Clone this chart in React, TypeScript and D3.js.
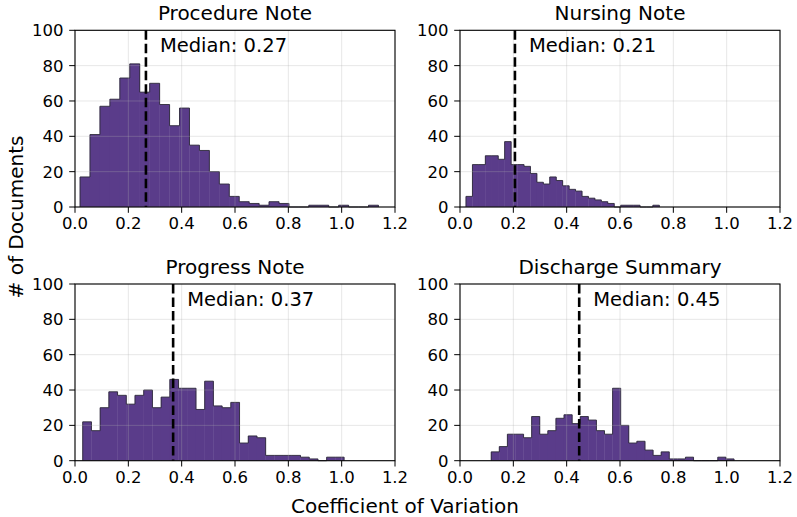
import * as d3 from "d3";

// histogram counts per note type, 30 bins each
const titles = ["Procedure Note", "Nursing Note", "Progress Note", "Discharge Summary"];
const procedureCounts = [17, 41, 57, 61, 73, 81, 65, 70, 58, 46, 56, 35, 32, 20, 13, 6, 3, 2, 1, 3, 2, 0, 0, 1, 1, 0, 1, 0, 0, 1];
const nursingCounts = [6, 24, 24, 29, 29, 27, 37, 24, 24, 23, 19, 14, 13, 17, 15, 12, 10, 9, 6, 5, 4, 3, 2, 0, 1, 1, 1, 0, 0, 1];
const progressCounts = [22, 17, 30, 39, 37, 32, 37, 40, 30, 36, 46, 41, 41, 29, 45, 31, 30, 33, 10, 14, 13, 3, 3, 3, 3, 2, 1, 0, 2, 2];
const dischargeCounts = [5, 8, 15, 15, 13, 25, 15, 17, 24, 26, 21, 25, 23, 17, 15, 41, 20, 10, 11, 6, 3, 5, 1, 1, 2, 0, 0, 0, 2, 1];
const binStarts = [0.019, 0.0225, 0.029, 0.117];
const binEnds = [1.138, 0.7475, 1.009, 1.0275];
const medians = [0.266, 0.206, 0.368, 0.447];
const xTicks = [0, 0.2, 0.4, 0.6, 0.8, 1.0, 1.2];
const yTicks = [0, 20, 40, 60, 80, 100];

const allCounts = [procedureCounts, nursingCounts, progressCounts, dischargeCounts];

const W = 797;
const H = 517;
const panelW = 320;
const panelH = 176.7;
const colX = [75, 460];
const rowY = [30.3, 284];
const font = "DejaVu Sans, sans-serif";

const Panel = ({ idx }: { idx: number }) => {
  const left = colX[idx % 2];
  const top = rowY[Math.floor(idx / 2)];
  const counts = allCounts[idx];

  const x = d3.scaleLinear().domain([0, 1.2]).range([0, panelW]);
  const y = d3.scaleLinear().domain([0, 100]).range([panelH, 0]);

  const bw = (binEnds[idx] - binStarts[idx]) / counts.length;
  const fmt = d3.format(".1f");

  // outline of the whole histogram (no edges between bins)
  const pts: [number, number][] = [[binStarts[idx], 0]];
  counts.forEach((c, i) => pts.push([binStarts[idx] + i * bw, c]));
  pts.push([binEnds[idx], counts[counts.length - 1]]);
  pts.push([binEnds[idx], 0]);
  const outline = d3
    .line<[number, number]>()
    .x((d) => x(d[0]))
    .y((d) => y(d[1]))
    .curve(d3.curveStepAfter)(pts);

  return (
    <g transform={`translate(${left},${top})`}>
      {counts.map((c, i) => {
        const x0 = binStarts[idx] + i * bw;
        if (c === 0) return null;
        return (
          <rect
            key={i}
            x={x(x0) - 0.2}
            y={y(c)}
            width={x(x0 + bw) - x(x0) + 0.4}
            height={y(0) - y(c)}
            fill="#5a3c8a"
          />
        );
      })}
      <path d={outline || ""} fill="none" stroke="#2e2a3a" strokeWidth={0.9} />
      {/* grid on top, like matplotlib */}
      {xTicks.map((t) => (
        <line key={"gx" + t} x1={x(t)} x2={x(t)} y1={0} y2={panelH} stroke="#b0b0b0" strokeOpacity={0.3} strokeWidth={1} />
      ))}
      {yTicks.map((t) => (
        <line key={"gy" + t} x1={0} x2={panelW} y1={y(t)} y2={y(t)} stroke="#b0b0b0" strokeOpacity={0.3} strokeWidth={1} />
      ))}
      <line
        x1={x(medians[idx])}
        x2={x(medians[idx])}
        y1={0}
        y2={panelH}
        stroke="#000"
        strokeWidth={2.6}
        strokeDasharray="9.5,4"
      />
      <text x={x(medians[idx]) + 14} y={22} fontSize={19.5} fontFamily={font}>
        {`Median: ${medians[idx].toFixed(2)}`}
      </text>
      <rect x={0} y={0} width={panelW} height={panelH} fill="none" stroke="#000" strokeWidth={1.1} />
      {xTicks.map((t) => (
        <g key={"tx" + t}>
          <line x1={x(t)} x2={x(t)} y1={panelH} y2={panelH + 5.8} stroke="#000" strokeWidth={1} />
          <text x={x(t)} y={panelH + 22} textAnchor="middle" fontSize={16.5} fontFamily={font}>
            {fmt(t)}
          </text>
        </g>
      ))}
      {yTicks.map((t) => (
        <g key={"ty" + t}>
          <line x1={-5.8} x2={0} y1={y(t)} y2={y(t)} stroke="#000" strokeWidth={1} />
          <text x={-11.5} y={y(t) + 6} textAnchor="end" fontSize={16.5} fontFamily={font}>
            {t}
          </text>
        </g>
      ))}
      <text x={panelW / 2} y={-10} textAnchor="middle" fontSize={20} fontFamily={font}>
        {titles[idx]}
      </text>
    </g>
  );
};

export default function App() {
  return (
    <svg width={W} height={H} style={{ position: "absolute", left: 0, top: 0, background: "#fff" }}>
      {titles.map((_, i) => (
        <Panel key={i} idx={i} />
      ))}
      <text
        transform="translate(23,217) rotate(-90)"
        textAnchor="middle"
        fontSize={20}
        fontFamily={font}
      >
        # of Documents
      </text>
      <text x={405} y={513} textAnchor="middle" fontSize={20} fontFamily={font}>
        Coefficient of Variation
      </text>
    </svg>
  );
}
